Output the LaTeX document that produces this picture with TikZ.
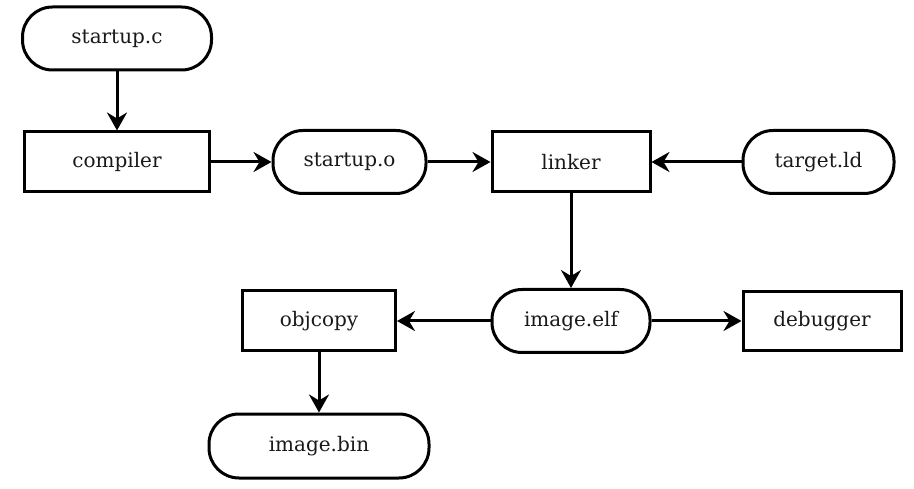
\documentclass[tikz,border=0pt]{standalone}
\usepackage{fontspec}
\setmainfont{DejaVu Serif}
\usetikzlibrary{arrows.meta}
\begin{document}
\begin{tikzpicture}[x=1pt,y=-1pt,
  base/.style={draw=black, line width=3pt, inner sep=0pt, font=\fontsize{20pt}{24pt}\selectfont, text=black!90},
  box/.style={base, minimum height=60pt},
  pill/.style={base, rounded corners=30pt, minimum height=63pt},
  arr/.style={line width=3pt, -{Stealth[length=18pt,width=20pt,inset=6pt]}}]
\useasboundingbox (0,0) rectangle (914,489);
\node[pill, minimum width=189pt] (sc) at (117,38.5) {startup.c};
\node[box, minimum width=185pt] (comp) at (117,162) {compiler};
\node[pill, minimum width=153pt] (so) at (349.5,162) {startup.o};
\node[box, minimum width=158pt] (link) at (571,162) {linker};
\node[pill, minimum width=151pt] (ld) at (818.5,162) {target.ld};
\node[pill, minimum width=158pt] (elf) at (571,321) {image.elf};
\node[box, minimum width=158pt, minimum height=59pt] (dbg) at (822,321) {debugger};
\node[box, minimum width=153pt] (objc) at (319,321) {objcopy};
\node[pill, minimum width=220pt, minimum height=64pt] (bin) at (319,446) {image.bin};
\draw[arr] (sc) -- (comp);
\draw[arr] (comp) -- (so);
\draw[arr] (so) -- (link);
\draw[arr] (ld) -- (link);
\draw[arr] (link) -- (elf);
\draw[arr] (elf) -- (objc);
\draw[arr] (elf) -- (dbg);
\draw[arr] (objc) -- (bin);
\end{tikzpicture}
\end{document}
